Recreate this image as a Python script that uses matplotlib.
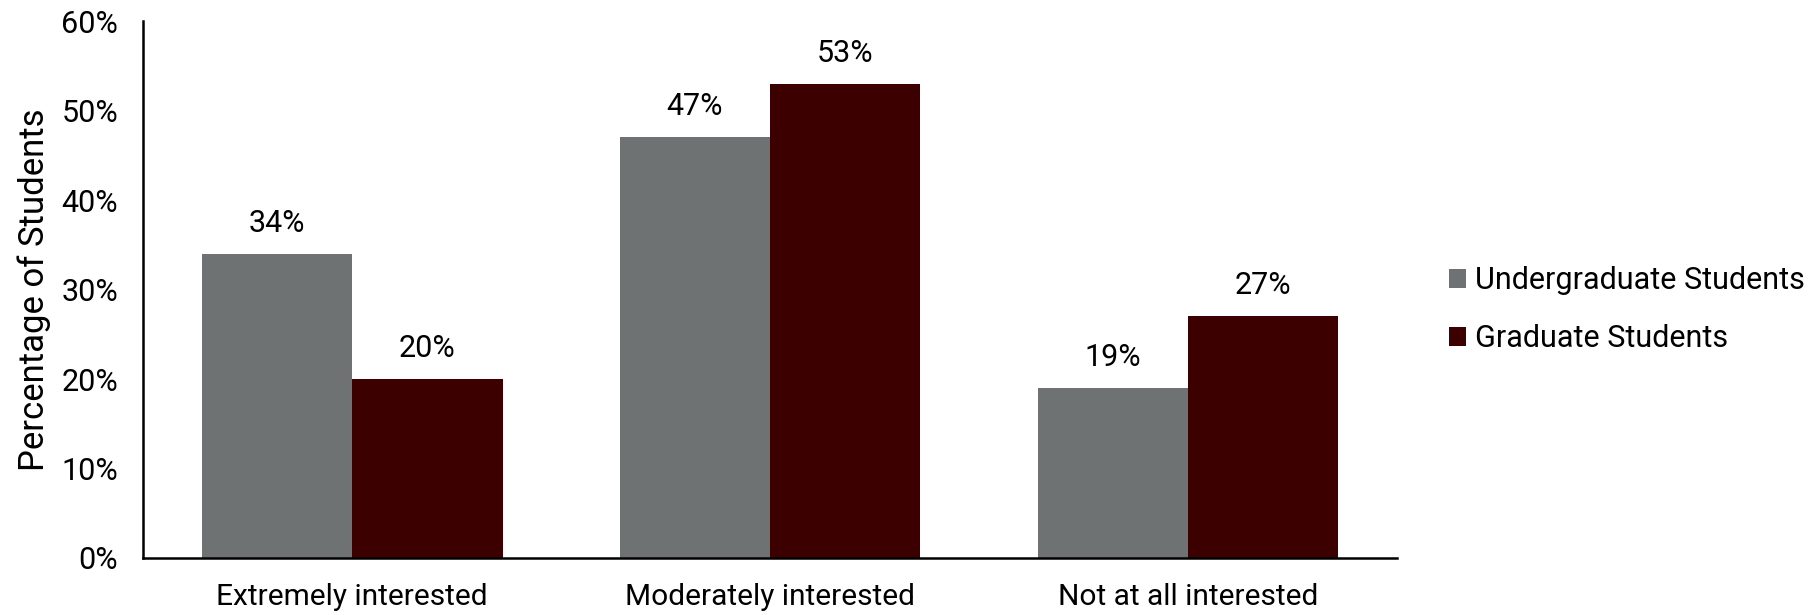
import matplotlib.pyplot as plt
import numpy as np
from matplotlib.ticker import PercentFormatter

plt.rcParams['font.family'] = ['Roboto', 'DejaVu Sans']

categories = ["Extremely interested", "Moderately interested", "Not at all interested"]
undergrad = [34, 47, 19]
grad = [20, 53, 27]
series_names = ["Undergraduate Students", "Graduate Students"]
colors = ["#6f7273", "#3d0000"]

fig = plt.figure(figsize=(18.18, 6.15), dpi=100)
ax = fig.add_axes([0.0787, 0.0927, 0.6897, 0.873])

x = np.arange(len(categories))
w = 0.36
b1 = ax.bar(x - w / 2, undergrad, w, color=colors[0], label=series_names[0])
b2 = ax.bar(x + w / 2, grad, w, color=colors[1], label=series_names[1])

# value labels above each bar
for bars, vals in ((b1, undergrad), (b2, grad)):
    for r, v in zip(bars, vals):
        ax.text(r.get_x() + r.get_width() / 2, v + 3.4, f"{v}%",
                ha="center", va="center", fontsize=22)

ax.set_xlim(-0.5, 2.5)
ax.set_ylim(0, 60)
ax.set_yticks(np.arange(0, 61, 10))
ax.yaxis.set_major_formatter(PercentFormatter(decimals=0))
ax.set_xticks(x)
ax.set_xticklabels(categories, fontsize=21.5)
ax.tick_params(axis="both", length=0)
ax.tick_params(axis="y", labelsize=22, pad=18)
ax.tick_params(axis="x", pad=18)
ax.set_ylabel("Percentage of Students", fontsize=25, labelpad=7)

for s in ["top", "right"]:
    ax.spines[s].set_visible(False)
for s in ["left", "bottom"]:
    ax.spines[s].set_linewidth(1.8)

fig.legend(handles=[b1, b2], loc="center left", bbox_to_anchor=(0.797, 0.496),
           frameon=False, fontsize=22, handlelength=0.55, handleheight=0.55,
           handletextpad=0.3, labelspacing=0.95, borderpad=0, borderaxespad=0)

fig.savefig("out.png", dpi=100)
